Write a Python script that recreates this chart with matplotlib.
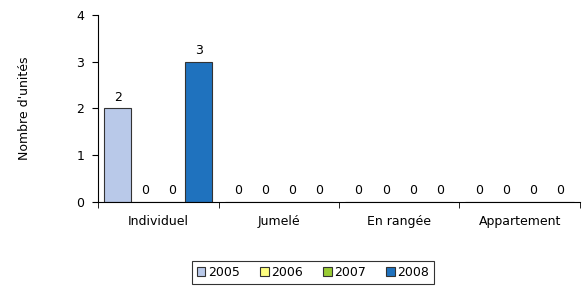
import numpy as np
import matplotlib.pyplot as plt

categories = ['Individuel', 'Jumelé', 'En rangée', 'Appartement']
years = ['2005', '2006', '2007', '2008']
v2005 = [2, 0, 0, 0]
v2006 = [0, 0, 0, 0]
v2007 = [0, 0, 0, 0]
v2008 = [3, 0, 0, 0]
colors = ['#B9C9E9', '#FFFF80', '#99CC33', '#1F72BE']

plt.rcParams['font.family'] = 'DejaVu Sans'
fs = 9
fig = plt.figure(figsize=(5.87, 2.87), dpi=100)
ax = fig.add_axes([0.167, 0.296, 0.821, 0.652])

x = np.arange(len(categories))
w = 0.225
series = [v2005, v2006, v2007, v2008]
for i, vals in enumerate(series):
    pos = x + (i - 1.5) * w
    ax.bar(pos, vals, w, color=colors[i], edgecolor='#333333', linewidth=0.8,
           label=years[i])
    for p, v in zip(pos, vals):
        ax.text(p, v + 0.1, str(v), ha='center', va='bottom', fontsize=fs)

ax.set_xlim(-0.5, len(categories) - 0.5)
ax.set_ylim(0, 4)
ax.set_yticks([0, 1, 2, 3, 4])
ax.set_xticks(x)
ax.set_xticklabels(categories)
ax.set_xticks(np.arange(-0.5, len(categories)), minor=True)
ax.tick_params(axis='x', which='major', length=0, pad=9, labelsize=fs)
ax.tick_params(axis='x', which='minor', length=4, direction='out')
ax.tick_params(axis='y', length=4, direction='out', labelsize=fs, pad=6)
ax.spines['top'].set_visible(False)
ax.spines['right'].set_visible(False)
ax.set_ylabel("Nombre d'unités", fontsize=fs)
ax.yaxis.set_label_coords(-0.14, 0.5)

leg = fig.legend(loc='center', bbox_to_anchor=(0.533, 0.052), ncol=4, fontsize=fs,
                 frameon=True, fancybox=False, edgecolor='black', handlelength=0.7,
                 handleheight=0.7, handletextpad=0.2, columnspacing=1.6, borderpad=0.4)
leg.get_frame().set_linewidth(0.8)

fig.savefig('out.png', dpi=100)
